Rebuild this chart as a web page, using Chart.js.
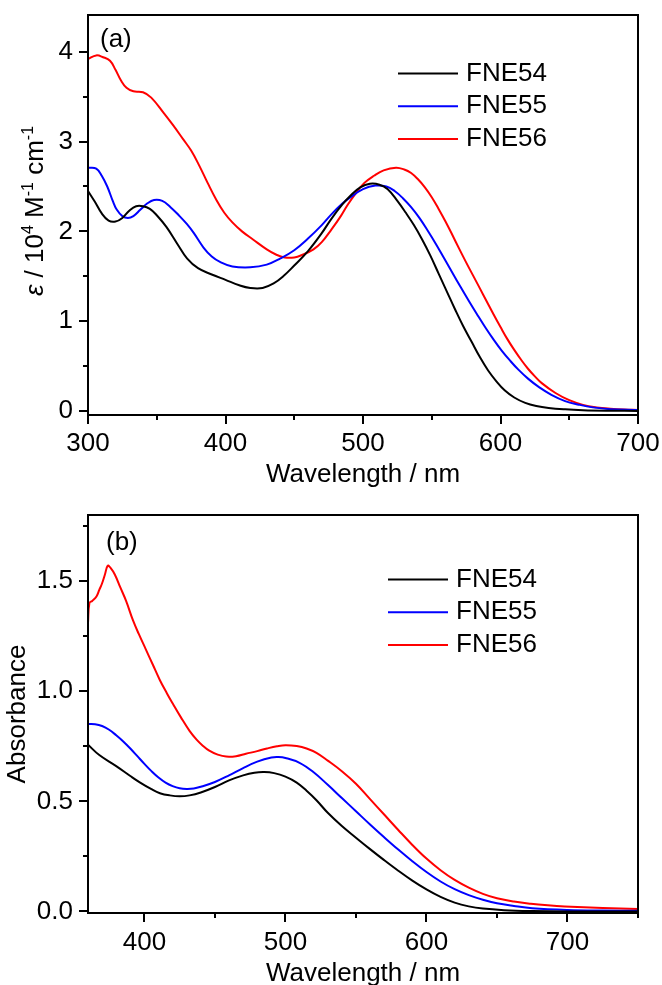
<!DOCTYPE html>
<html>
<head>
<meta charset="utf-8">
<script src="https://cdn.jsdelivr.net/npm/chart.js@4.4.0/dist/chart.umd.min.js"></script>
<style>
  html, body { margin: 0; padding: 0; background: #fff; overflow: hidden; }
  canvas { position: absolute; left: 0; }
  #chartA { top: 0; }
  #chartB { top: 495px; }
</style>
</head>
<body>
<canvas id="chartA" width="662" height="495"></canvas>
<canvas id="chartB" width="662" height="500"></canvas>
<script>
// ---- panel (a): molar absorptivity, 10^4 M^-1 cm^-1 ----
const wlA54 = [300, 305, 310, 315, 320, 325, 330, 335, 340, 345, 350, 357, 365, 372, 380, 390, 400, 410, 418, 427, 435, 442, 450, 460, 470, 477, 485, 491, 498, 505, 512, 518, 525, 531, 537, 543, 549, 555, 561, 567, 573, 579, 585, 591, 597, 603, 610, 618, 626, 635, 647, 660, 680, 700];
const epsA54 = [2.45, 2.33, 2.20, 2.12, 2.11, 2.15, 2.23, 2.28, 2.28, 2.25, 2.18, 2.05, 1.86, 1.70, 1.59, 1.52, 1.46, 1.40, 1.37, 1.37, 1.42, 1.50, 1.62, 1.78, 1.98, 2.14, 2.30, 2.40, 2.49, 2.53, 2.52, 2.47, 2.34, 2.21, 2.07, 1.91, 1.73, 1.53, 1.33, 1.13, 0.94, 0.77, 0.60, 0.45, 0.33, 0.23, 0.15, 0.09, 0.055, 0.033, 0.018, 0.009, 0.003, 0.0];

const wlA55 = [300, 306, 310, 314, 318, 321, 325, 329, 333, 338, 343, 348, 354, 360, 366, 372, 377, 384, 390, 396, 405, 418, 430, 440, 450, 460, 470, 477, 485, 490, 500, 509, 517, 523, 529, 535, 541, 547, 553, 559, 565, 571, 577, 583, 589, 595, 601, 607, 613, 620, 628, 637, 647, 657, 667, 680, 700];
const epsA55 = [2.71, 2.70, 2.62, 2.50, 2.34, 2.24, 2.17, 2.15, 2.17, 2.24, 2.31, 2.35, 2.34, 2.27, 2.18, 2.08, 1.98, 1.82, 1.72, 1.66, 1.61, 1.60, 1.63, 1.70, 1.79, 1.92, 2.07, 2.19, 2.31, 2.37, 2.47, 2.51, 2.50, 2.45, 2.37, 2.27, 2.15, 2.01, 1.86, 1.70, 1.54, 1.38, 1.225, 1.075, 0.93, 0.795, 0.67, 0.56, 0.46, 0.36, 0.265, 0.18, 0.11, 0.07, 0.04, 0.02, 0.01];

const wlA56 = [300, 306, 311, 316, 320, 324, 328, 333, 340, 346, 355, 362, 369, 375, 381, 387, 393, 399, 405, 412, 420, 430, 437, 443, 450, 456, 464, 470, 477, 483, 489, 495, 501, 508, 515, 524, 530, 535, 540, 545, 550, 555, 560, 565, 570, 575, 580, 585, 590, 595, 600, 605, 610, 615, 620, 625, 630, 640, 650, 660, 670, 680, 690, 700];
const epsA56 = [3.92, 3.96, 3.94, 3.90, 3.80, 3.68, 3.60, 3.56, 3.55, 3.49, 3.32, 3.18, 3.03, 2.90, 2.73, 2.54, 2.36, 2.21, 2.10, 2.00, 1.91, 1.80, 1.74, 1.71, 1.71, 1.74, 1.80, 1.88, 2.02, 2.15, 2.30, 2.43, 2.54, 2.62, 2.68, 2.71, 2.69, 2.65, 2.58, 2.49, 2.38, 2.25, 2.11, 1.96, 1.805, 1.655, 1.51, 1.365, 1.22, 1.075, 0.935, 0.80, 0.68, 0.57, 0.47, 0.385, 0.31, 0.20, 0.12, 0.068, 0.04, 0.025, 0.016, 0.012];

const xTicksA = [300, 400, 500, 600, 700];
const xMinorA = [350, 450, 550, 650];
const yTicksA = [0, 1, 2, 3, 4];
const yMinorA = [0.5, 1.5, 2.5, 3.5];

// ---- panel (b): absorbance ----
const wlB54 = [360, 368, 380, 390, 397, 405, 411, 418, 425, 432, 440, 450, 460, 470, 478, 485, 492, 500, 508, 515, 522, 530, 540, 550, 560, 570, 580, 590, 600, 610, 620, 630, 640, 655, 675, 700, 750];
const absB54 = [0.757, 0.71, 0.66, 0.615, 0.585, 0.555, 0.537, 0.527, 0.523, 0.527, 0.54, 0.565, 0.595, 0.618, 0.63, 0.633, 0.628, 0.612, 0.585, 0.548, 0.505, 0.448, 0.388, 0.335, 0.283, 0.233, 0.185, 0.14, 0.1, 0.066, 0.04, 0.023, 0.013, 0.006, 0.002, 0.0, 0.0];

const wlB55 = [360, 365, 370, 375, 380, 385, 390, 395, 400, 405, 410, 415, 420, 425, 430, 435, 440, 450, 460, 470, 480, 490, 495, 500, 510, 520, 530, 540, 550, 560, 570, 580, 590, 600, 610, 620, 630, 640, 650, 662, 675, 700, 725, 750];
const absB55 = [0.851, 0.85, 0.842, 0.825, 0.80, 0.772, 0.74, 0.705, 0.67, 0.637, 0.608, 0.585, 0.569, 0.559, 0.556, 0.558, 0.566, 0.588, 0.618, 0.651, 0.68, 0.699, 0.701, 0.697, 0.675, 0.632, 0.575, 0.515, 0.455, 0.395, 0.337, 0.281, 0.228, 0.179, 0.136, 0.101, 0.074, 0.053, 0.037, 0.025, 0.015, 0.007, 0.004, 0.003];

const wlB56 = [360, 361, 363, 366, 368, 370, 372, 374, 376, 379, 383, 387, 392, 396, 401, 406, 411, 416, 420, 426, 432, 437, 441, 446, 452, 458, 465, 472, 480, 487, 494, 500, 508, 515, 522, 530, 540, 550, 560, 570, 580, 590, 600, 610, 620, 630, 640, 650, 662, 674, 686, 698, 725, 750];
const absB56 = [1.31, 1.40, 1.41, 1.43, 1.46, 1.49, 1.53, 1.57, 1.56, 1.53, 1.47, 1.41, 1.32, 1.26, 1.19, 1.12, 1.05, 0.99, 0.945, 0.88, 0.82, 0.78, 0.755, 0.73, 0.712, 0.703, 0.705, 0.716, 0.728, 0.74, 0.75, 0.755, 0.751, 0.74, 0.72, 0.685, 0.637, 0.58, 0.51, 0.44, 0.37, 0.302, 0.24, 0.187, 0.143, 0.108, 0.08, 0.06, 0.045, 0.035, 0.028, 0.023, 0.016, 0.011];

const xTicksB = [400, 500, 600, 700];
const xMinorB = [450, 550, 650, 750];
const yTicksB = [0, 0.5, 1.0, 1.5];
const yMinorB = [0.25, 0.75, 1.25, 1.75];

const seriesNames = ['FNE54', 'FNE55', 'FNE56'];
const seriesColors = ['#000000', '#0000ff', '#ff0000'];

const FONT = '"Liberation Sans", Arial, Helvetica, sans-serif';

function pts(xs, ys) {
    return xs.map((x, i) => ({ x: x, y: ys[i] }));
}

function buildDatasets(pairs) {
    return pairs.map((p, i) => ({
        label: seriesNames[i],
        data: pts(p[0], p[1]),
        borderColor: seriesColors[i],
        backgroundColor: seriesColors[i],
        borderWidth: 2,
        pointRadius: 0,
        tension: 0.4,
        fill: false
    }));
}

// box, minor ticks, panel letter, legend and rich y title
const framePlugin = {
    id: 'frame',
    afterDraw(chart, args, opts) {
        const { ctx, chartArea: a, scales } = chart;
        ctx.save();
        ctx.strokeStyle = '#000';
        ctx.lineWidth = 2;
        ctx.strokeRect(a.left, a.top, a.right - a.left, a.bottom - a.top);

        // minor ticks
        ctx.beginPath();
        opts.xMinor.forEach(v => {
            const px = Math.round(scales.x.getPixelForValue(v));
            ctx.moveTo(px, a.bottom);
            ctx.lineTo(px, a.bottom + 5);
        });
        opts.yMinor.forEach(v => {
            const py = Math.round(scales.y.getPixelForValue(v));
            ctx.moveTo(a.left, py);
            ctx.lineTo(a.left - 5, py);
        });
        ctx.stroke();

        ctx.fillStyle = '#000';
        ctx.font = '26px ' + FONT;
        ctx.textBaseline = 'middle';
        ctx.textAlign = 'left';
        ctx.fillText(opts.panel, a.left + opts.panelX, a.top + opts.panelY);

        // legend
        chart.data.datasets.forEach((ds, i) => {
            const y = a.top + opts.legendY + i * 32.7;
            const x0 = a.left + opts.legendX;
            ctx.strokeStyle = ds.borderColor;
            ctx.lineWidth = 2;
            ctx.beginPath();
            ctx.moveTo(x0, y);
            ctx.lineTo(x0 + 60, y);
            ctx.stroke();
            ctx.fillStyle = '#000';
            ctx.fillText(ds.label, x0 + 68, y);
        });

        // y title with superscripts
        if (opts.yTitle) {
            const parts = opts.yTitle;
            let total = 0;
            parts.forEach(p => {
                ctx.font = p.font;
                p.w = ctx.measureText(p.t).width;
                total += p.w;
            });
            ctx.translate(opts.yTitleX, (a.top + a.bottom) / 2 + opts.yTitleDY);
            ctx.rotate(-Math.PI / 2);
            ctx.textBaseline = 'alphabetic';
            let x = -total / 2;
            parts.forEach(p => {
                ctx.font = p.font;
                ctx.fillText(p.t, x, p.dy || 0);
                x += p.w;
            });
        }
        ctx.restore();
    }
};

function makeAxes(o) {
    return {
        x: {
            type: 'linear',
            min: o.xMin,
            max: o.xMax,
            afterBuildTicks: s => { s.ticks = o.xTicks.map(v => ({ value: v })); },
            afterFit: s => { s.height = o.xHeight; s.paddingLeft = 0; s.paddingRight = 0; },
            grid: { drawOnChartArea: false, drawTicks: true, tickLength: 9, color: '#000', lineWidth: 2 },
            border: { display: true, color: '#000', width: 2 },
            ticks: { color: '#000', font: { size: 26, family: FONT }, padding: o.xTickPad, maxRotation: 0, autoSkip: false },
            title: { display: true, text: 'Wavelength / nm', color: '#000', font: { size: 26, family: FONT }, padding: { top: 0, bottom: o.xTitlePad } }
        },
        y: {
            type: 'linear',
            min: o.yMin,
            max: o.yMax,
            afterBuildTicks: s => { s.ticks = o.yTicks.map(v => ({ value: v })); },
            afterFit: s => { s.width = 88; s.paddingTop = 0; s.paddingBottom = 0; },
            grid: { drawOnChartArea: false, drawTicks: true, tickLength: 9, color: '#000', lineWidth: 2 },
            border: { display: true, color: '#000', width: 2 },
            ticks: { color: '#000', font: { size: 26, family: FONT }, padding: 6, autoSkip: false, callback: o.yFmt },
            title: o.yTitleText
                ? { display: true, text: o.yTitleText, color: '#000', font: { size: 26, family: FONT }, padding: { top: 2, bottom: 0 } }
                : { display: false }
        }
    };
}

function makeChart(id, datasets, axes, padding, frameOpts) {
    return new Chart(document.getElementById(id), {
        type: 'line',
        data: { datasets: datasets },
        options: {
            responsive: false,
            animation: false,
            devicePixelRatio: 1,
            layout: { padding: padding },
            plugins: {
                legend: { display: false },
                tooltip: { enabled: false },
                frame: frameOpts
            },
            scales: axes
        },
        plugins: [framePlugin]
    });
}

// Panel (a)
makeChart('chartA',
    buildDatasets([[wlA54, epsA54], [wlA55, epsA55], [wlA56, epsA56]]),
    makeAxes({
        xMin: 300, xMax: 700, xTicks: xTicksA, xHeight: 80, xTickPad: 4, xTitlePad: 5,
        yMin: -0.045, yMax: 4.41, yTicks: yTicksA, yFmt: v => String(v)
    }),
    { top: 15, right: 24, left: 0, bottom: 0 },
    {
        xMinor: xMinorA, yMinor: yMinorA, panel: '(a)', panelX: 12, panelY: 25,
        legendX: 310, legendY: 58.5,
        yTitleX: 43, yTitleDY: -4,
        yTitle: [
            { t: '\u03b5', font: 'italic 26px ' + FONT },
            { t: ' / 10', font: '26px ' + FONT },
            { t: '4', font: '16px ' + FONT, dy: -10 },
            { t: ' M', font: '26px ' + FONT },
            { t: '-1', font: '16px ' + FONT, dy: -10 },
            { t: ' cm', font: '26px ' + FONT },
            { t: '-1', font: '16px ' + FONT, dy: -10 }
        ]
    }
);

// Panel (b)
makeChart('chartB',
    buildDatasets([[wlB54, absB54], [wlB55, absB55], [wlB56, absB56]]),
    makeAxes({
        xMin: 360, xMax: 750, xTicks: xTicksB, xHeight: 82, xTickPad: 5, xTitlePad: 6,
        yMin: -0.007, yMax: 1.8, yTicks: yTicksB, yFmt: v => v.toFixed(1),
        yTitleText: 'Absorbance'
    }),
    { top: 20, right: 24, left: 0, bottom: 0 },
    {
        xMinor: xMinorB, yMinor: yMinorB, panel: '(b)', panelX: 18, panelY: 28,
        legendX: 300, legendY: 64.5
    }
);
</script>
</body>
</html>
